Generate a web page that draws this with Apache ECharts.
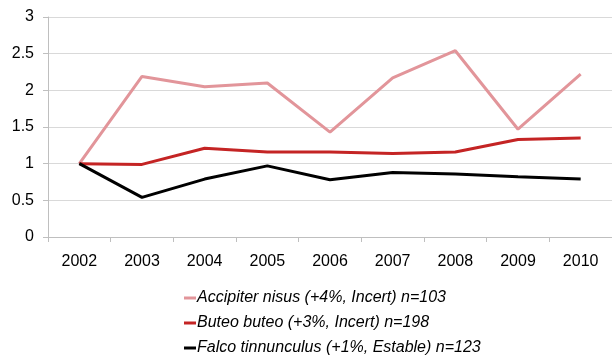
<!DOCTYPE html>
<html>
<head>
<meta charset="utf-8">
<script src="https://cdn.jsdelivr.net/npm/echarts@6/dist/echarts.min.js"></script>
<style>
  html, body { margin: 0; padding: 0; background: #fff; }
  #chart { width: 612px; height: 356px; }
</style>
</head>
<body>
<div id="chart"></div>
<script>
const years = ['2002', '2003', '2004', '2005', '2006', '2007', '2008', '2009', '2010']
const accipiter = [1, 2.19, 2.05, 2.1, 1.43, 2.17, 2.54, 1.47, 2.22]
const buteo = [1, 0.99, 1.21, 1.16, 1.16, 1.14, 1.16, 1.33, 1.35]
const falco = [1, 0.54, 0.79, 0.97, 0.78, 0.88, 0.86, 0.82, 0.79]
const seriesNames = [
  'Accipiter nisus (+4%, Incert) n=103',
  'Buteo buteo (+3%, Incert) n=198',
  'Falco tinnunculus (+1%, Estable) n=123'
]
const colors = ['#e2959a', '#c42424', '#000000']

const chart = echarts.init(document.getElementById('chart'))

function line(name, data, color) {
  return {
    name: name,
    type: 'line',
    data: data,
    symbol: 'none',
    lineStyle: { color: color, width: 3 },
    itemStyle: { color: color },
    animation: false
  }
}

chart.setOption({
  grid: { left: 48, right: -4, top: 17, bottom: 119 },
  legend: {
    orient: 'vertical',
    left: 184,
    top: 290,
    height: 66,
    padding: 0,
    itemWidth: 12,
    itemHeight: 3,
    itemGap: 9,
    icon: 'rect',
    data: seriesNames,
    textStyle: {
      fontFamily: 'Liberation Sans, Arial',
      fontStyle: 'italic',
      fontSize: 16,
      color: '#000',
      padding: [0, 0, 0, -4]
    }
  },
  xAxis: {
    type: 'category',
    data: years,
    boundaryGap: true,
    axisLine: { lineStyle: { color: '#bfbfbf', width: 1 } },
    axisTick: { show: true, length: 5, lineStyle: { color: '#bfbfbf' } },
    axisLabel: {
      color: '#000',
      fontFamily: 'Liberation Sans, Arial',
      fontSize: 16,
      margin: 17
    }
  },
  yAxis: {
    type: 'value',
    min: 0,
    max: 3,
    interval: 0.5,
    axisLine: { show: true, lineStyle: { color: '#bfbfbf', width: 1 } },
    axisTick: { show: true, length: 5, lineStyle: { color: '#bfbfbf' } },
    splitLine: { lineStyle: { color: '#d9d9d9', width: 1 } },
    axisLabel: {
      color: '#000',
      fontFamily: 'Liberation Sans, Arial',
      fontSize: 16,
      margin: 14
    }
  },
  series: [
    line(seriesNames[0], accipiter, colors[0]),
    line(seriesNames[1], buteo, colors[1]),
    line(seriesNames[2], falco, colors[2])
  ]
})
</script>
</body>
</html>
